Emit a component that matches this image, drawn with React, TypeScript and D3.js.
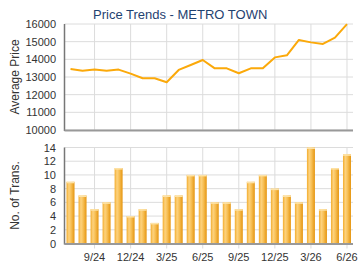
import React from "react";
import * as d3 from "d3";

// Monthly series, 7/24 through 6/26
const months = [
  "7/24", "8/24", "9/24", "10/24", "11/24", "12/24",
  "1/25", "2/25", "3/25", "4/25", "5/25", "6/25",
  "7/25", "8/25", "9/25", "10/25", "11/25", "12/25",
  "1/26", "2/26", "3/26", "4/26", "5/26", "6/26",
];
const avgPrice = [
  13450, 13360, 13420, 13360, 13420, 13190, 12930, 12930, 12700, 13400, 13680, 13960,
  13490, 13490, 13210, 13490, 13490, 14110, 14230, 15100, 14960, 14870, 15230, 15990,
];
const transactions = [9, 7, 5, 6, 11, 4, 5, 3, 7, 7, 10, 10, 6, 6, 5, 9, 10, 8, 7, 6, 14, 5, 11, 13];
const quarterLabels = ["9/24", "12/24", "3/25", "6/25", "9/25", "12/25", "3/26", "6/26"];
const priceTicks = [10000, 11000, 12000, 13000, 14000, 15000, 16000];
const transTicks = [0, 2, 4, 6, 8, 10, 12, 14];

const W = 360;
const H = 270;
const left = 64.5;
const right = 353;
const font = "'Liberation Sans', Arial, sans-serif";

export default function App() {
  const x = d3.scaleBand<string>().domain(months).range([left, right]).padding(0);
  const cx = (m: string) => (x(m) as number) + x.bandwidth() / 2;

  const yP = d3.scaleLinear().domain([10000, 16000]).range([130, 24]);
  const yT = d3.scaleLinear().domain([0, 14]).range([243.5, 147.5]);

  const line = d3
    .line<number>()
    .x((_, i) => cx(months[i]))
    .y((d) => yP(d));

  const barW = 8;

  return (
    <svg
      width={W}
      height={H}
      style={{ position: "absolute", left: 0, top: 0, background: "#fff" }}
      fontFamily={font}
    >
      <defs>
        <linearGradient id="barGrad" x1="0" x2="1" y1="0" y2="0">
          <stop offset="0%" stopColor="#f2ac2c" />
          <stop offset="30%" stopColor="#fdd27e" />
          <stop offset="55%" stopColor="#f8c25a" />
          <stop offset="100%" stopColor="#e59510" />
        </linearGradient>
      </defs>
      <rect x={0} y={0} width={W} height={H} fill="#fff" />

      {/* title */}
      <text x={93} y={19} fontSize={13} fill="#1f4270">
        Price Trends - METRO TOWN
      </text>

      {/* price panel grid */}
      {priceTicks.map((t) => (
        <line key={"pg" + t} x1={left} x2={right} y1={yP(t)} y2={yP(t)} stroke="#dcdcdc" />
      ))}
      {quarterLabels.map((m) => (
        <line key={"pv" + m} x1={cx(m)} x2={cx(m)} y1={yP(16000)} y2={yP(10000)} stroke="#dcdcdc" />
      ))}
      {priceTicks.map((t) => (
        <text key={"pl" + t} x={56} y={yP(t) + 4} fontSize={11} textAnchor="end" fill="#333">
          {t}
        </text>
      ))}
      <text
        transform={`translate(19,${yP(13000)}) rotate(-90)`}
        fontSize={12}
        textAnchor="middle"
        fill="#333"
      >
        Average Price
      </text>
      <path d={line(avgPrice) || ""} fill="none" stroke="#fba90a" strokeWidth={2} strokeLinejoin="round" />
      <line x1={left} x2={left} y1={yP(16000)} y2={yP(10000) + 1} stroke="#777" strokeWidth={1.5} />
      <line x1={left} x2={right} y1={yP(10000) + 0.5} y2={yP(10000) + 0.5} stroke="#999" strokeWidth={2} />

      {/* transactions panel grid */}
      {transTicks.map((t) => (
        <line key={"tg" + t} x1={left} x2={right} y1={yT(t)} y2={yT(t)} stroke="#dcdcdc" />
      ))}
      {quarterLabels.map((m) => (
        <line key={"tv" + m} x1={cx(m)} x2={cx(m)} y1={yT(14)} y2={yT(0) + 5} stroke="#dcdcdc" />
      ))}
      {transTicks.map((t) => (
        <text key={"tl" + t} x={56} y={yT(t) + 4} fontSize={11} textAnchor="end" fill="#333">
          {t}
        </text>
      ))}
      <text
        transform={`translate(19,${yT(7)}) rotate(-90)`}
        fontSize={12}
        textAnchor="middle"
        fill="#333"
      >
        No. of Trans.
      </text>
      {transactions.map((v, i) => {
        const bx = cx(months[i]) - barW / 2;
        const by = yT(v);
        return (
          <g key={"b" + i}>
            <rect x={bx} y={by} width={barW} height={yT(0) - by} fill="url(#barGrad)" />
            <rect x={bx} y={by} width={barW} height={1.5} fill="#fde3a8" />
          </g>
        );
      })}
      <line x1={left} x2={left} y1={yT(14)} y2={yT(0) + 1} stroke="#777" strokeWidth={1.5} />
      <line x1={left} x2={right} y1={yT(0) + 0.5} y2={yT(0) + 0.5} stroke="#999" strokeWidth={2} />
      {quarterLabels.map((m) => (
        <text key={"xl" + m} x={cx(m)} y={261} fontSize={11} textAnchor="middle" fill="#333">
          {m}
        </text>
      ))}
    </svg>
  );
}
